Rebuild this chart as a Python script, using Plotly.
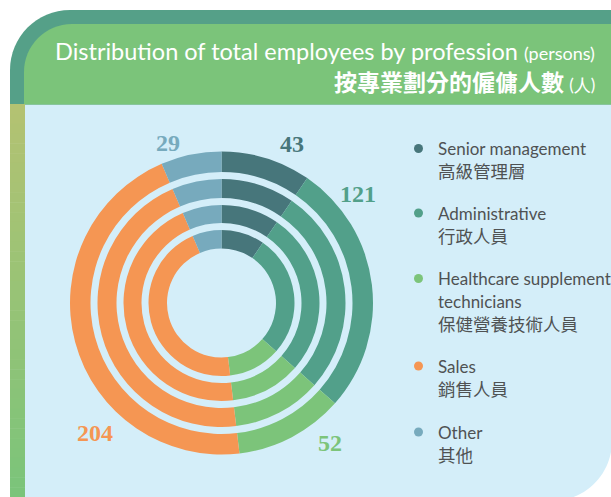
import plotly.graph_objects as go

# ---- data ----
categories_en = ["Senior management", "Administrative", "Healthcare supplement<br>technicians", "Sales", "Other"]
categories_zh = ["高級管理層", "行政人員", "保健營養技術人員", "銷售人員", "其他"]
values = [43, 121, 52, 204, 29]
colors = ["#47767B", "#52A08A", "#7CC47A", "#F59653", "#77AABD"]

W, H = 611, 497


def px(x, y):
    return x / W, 1 - y / H


def path(points_cmds):
    out = []
    for cmd in points_cmds:
        c = cmd[0]
        coords = cmd[1:]
        pts = []
        for i in range(0, len(coords), 2):
            X, Y = px(coords[i], coords[i + 1])
            pts.append(f"{X:.5f},{Y:.5f}")
        out.append(c + " " + " ".join(pts))
    return " ".join(out) + " Z"


CX, CY = 221.5, 303
rings = [(131, 151.5), (105, 124), (80, 98), (54.5, 73)]

fig = go.Figure()
for rin, rout in rings:
    fig.add_trace(go.Pie(
        values=values,
        labels=[c.replace("<br>", " ") for c in categories_en],
        marker=dict(colors=colors, line=dict(width=0)),
        sort=False, direction="clockwise", rotation=0,
        hole=rin / rout, textinfo="none",
        domain=dict(x=[(CX - rout) / W, (CX + rout) / W],
                    y=[(H - CY - rout) / H, (H - CY + rout) / H]),
        showlegend=False,
    ))

shapes = []
# light blue panel with rounded bottom-right corner
R = 60
k = 0.5523 * R
shapes.append(dict(type="path", xref="paper", yref="paper", layer="below",
                   path=path([("M", 25, 104), ("L", 612, 104), ("L", 612, 441),
                              ("C", 612, 441 + k, 552 + k, 501, 552, 501),
                              ("L", 25, 501)]),
                   fillcolor="#D4EEF9", line=dict(width=0)))
# header dark outer
Ro = 60
ko = 0.5523 * Ro
shapes.append(dict(type="path", xref="paper", yref="paper", layer="below",
                   path=path([("M", 10, 104.5), ("L", 10, 10 + Ro),
                              ("C", 10, 10 + Ro - ko, 10 + Ro - ko, 10, 10 + Ro, 10),
                              ("L", 612, 10), ("L", 612, 104.5)]),
                   fillcolor="#55A088", line=dict(width=0)))
# header inner light green
Ri = 48
ki = 0.5523 * Ri
shapes.append(dict(type="path", xref="paper", yref="paper", layer="below",
                   path=path([("M", 24, 104.5), ("L", 24, 24 + Ri),
                              ("C", 24, 24 + Ri - ki, 24 + Ri - ki, 24, 24 + Ri, 24),
                              ("L", 612, 24), ("L", 612, 104.5)]),
                   fillcolor="#7BC47A", line=dict(width=0)))
# left gradient bar
top_c = (0xB3, 0xC2, 0x72)
bot_c = (0x7B, 0xC4, 0x7A)
n = 40
y0, y1 = 104, 497
for i in range(n):
    t = i / (n - 1)
    c = tuple(round(top_c[j] + (bot_c[j] - top_c[j]) * t) for j in range(3))
    ya = y0 + (y1 - y0) * i / n
    yb = y0 + (y1 - y0) * (i + 1) / n + 0.5
    xa, ya_p = px(10, ya)
    xb, yb_p = px(25, yb)
    shapes.append(dict(type="rect", xref="paper", yref="paper", layer="below",
                       x0=xa, x1=xb, y0=yb_p, y1=ya_p,
                       fillcolor=f"rgb{c}", line=dict(width=0)))

# legend dots
legend_y = [148.5, 213, 278.5, 366, 432]
for yy, col in zip(legend_y, colors):
    xa, ya = px(414, yy - 4.5)
    xb, yb = px(423, yy + 4.5)
    shapes.append(dict(type="circle", xref="paper", yref="paper", layer="above",
                       x0=xa, x1=xb, y0=yb, y1=ya, fillcolor=col, line=dict(width=0)))

annotations = []
# title
X, Y = px(597, 51)
annotations.append(dict(xref="paper", yref="paper", x=X, y=Y, xanchor="right", yanchor="middle",
                        showarrow=False,
                        text="Distribution of total employees by profession <span style='font-size:18px'>(persons)</span>",
                        font=dict(family="Lato", size=23.5, color="white")))
X, Y = px(597, 81)
annotations.append(dict(xref="paper", yref="paper", x=X, y=Y, xanchor="right", yanchor="middle",
                        showarrow=False,
                        text="<b>按專業劃分的僱傭人數</b> <span style='font-size:17px;font-family:Lato'>(人)</span>",
                        font=dict(family="Noto Sans CJK TC", size=23, color="white")))

# value labels
label_pos = [(292, 144), (358, 194), (330, 443), (95, 433), (168, 143)]
for (lx, ly), v, col in zip(label_pos, values, colors):
    X, Y = px(lx, ly)
    annotations.append(dict(xref="paper", yref="paper", x=X, y=Y, xanchor="center", yanchor="middle",
                            showarrow=False, text=f"<b>{v}</b>",
                            font=dict(family="Liberation Serif", size=24, color=col)))

# legend texts
line_h = 22.5
for yy, en, zh in zip(legend_y, categories_en, categories_zh):
    en_lines = en.split("<br>")
    for i, ln in enumerate(en_lines):
        X, Y = px(436, yy + i * line_h)
        annotations.append(dict(xref="paper", yref="paper", x=X, y=Y, xanchor="left", yanchor="middle",
                                showarrow=False, text=ln,
                                font=dict(family="Lato", size=17, color="#4F5253")))
    X, Y = px(436, yy + len(en_lines) * line_h)
    annotations.append(dict(xref="paper", yref="paper", x=X, y=Y, xanchor="left", yanchor="middle",
                            showarrow=False, text=zh,
                            font=dict(family="Noto Sans CJK TC", size=17.5, color="#4F5253")))

fig.update_layout(
    width=W, height=H,
    margin=dict(l=0, r=0, t=0, b=0),
    paper_bgcolor="white",
    plot_bgcolor="white",
    shapes=shapes,
    annotations=annotations,
    showlegend=False,
)

fig.write_html("out.html", config={"displayModeBar": False},
               post_script="document.body.style.margin='0';")
